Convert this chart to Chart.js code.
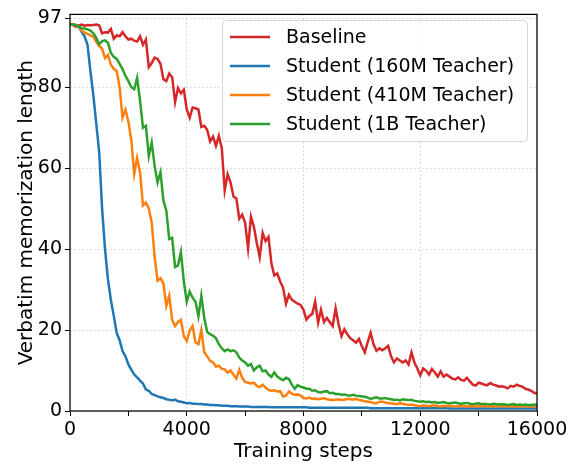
<!DOCTYPE html>
<html>
<head>
<meta charset="utf-8">
<script src="https://cdn.jsdelivr.net/npm/chart.js@4/dist/chart.umd.min.js"></script>
<style>
  html, body { margin: 0; padding: 0; background: #fff; }
  #wrap { width: 575px; height: 466px; }
</style>
</head>
<body>
<div id="wrap"><canvas id="memChart" width="575" height="466"></canvas></div>
<script>
// training steps, one point every 100 steps
const steps = [];
for (let s = 0; s <= 16000; s += 100) steps.push(s);

const seriesNames = ['Baseline', 'Student (160M Teacher)', 'Student (410M Teacher)', 'Student (1B Teacher)'];
const seriesColors = ['#d62728', '#1f77b4', '#ff7f0e', '#2ca02c'];

const yTickValues = [0, 20, 40, 60, 80, 97];

const baseline = [
  95.5, 95.4, 95.0, 95.3, 95.5, 95.2, 95.4, 95.3, 95.4, 95.5,
  95.3, 93.3, 93.6, 93.5, 94.4, 92.0, 92.8, 92.6, 93.6, 92.6,
  91.8, 92.0, 91.5, 91.3, 92.6, 90.5, 91.8, 85.0, 86.0, 87.3,
  87.0, 85.8, 82.0, 81.5, 83.4, 82.5, 76.3, 79.8, 78.5, 79.4,
  74.5, 72.5, 75.0, 74.8, 74.5, 70.2, 70.5, 69.5, 66.6, 67.8,
  65.5, 68.0, 65.0, 54.5, 58.5, 56.5, 53.0, 52.5, 47.5, 48.5,
  46.5, 40.2, 48.0, 45.5, 41.5, 38.0, 44.0, 42.0, 43.0, 36.5,
  33.5, 34.0, 32.0, 30.5, 26.5, 28.7, 27.5, 27.0, 26.5, 26.2,
  25.0, 22.6, 23.5, 24.0, 27.0, 21.8, 25.0, 22.0, 23.0, 22.0,
  21.0, 25.4, 21.5, 18.5, 20.2, 19.0, 18.0, 17.5, 16.9, 17.8,
  16.0, 14.5, 17.0, 19.3, 16.5, 14.9, 15.5, 15.0, 15.5, 16.1,
  13.5, 12.0, 13.0, 12.5, 12.0, 12.5, 11.5, 14.5, 12.0, 10.5,
  8.8, 10.5, 10.0, 9.0, 10.4, 9.5, 8.5, 9.8, 8.5, 9.0,
  8.5, 8.0, 7.8, 8.3, 7.7, 7.5, 8.2, 7.3, 6.5, 6.3,
  7.0, 6.8, 6.5, 6.4, 6.9, 6.5, 6.3, 6.0, 6.1, 5.9,
  5.6, 6.2, 6.0, 6.5, 6.2, 6.0, 5.5, 5.3, 5.0, 4.5,
  4.3
];

const teacher160m = [
  95.5, 95.5, 95.3, 95.0, 93.7, 92.6, 90.5, 84.0, 78.0, 71.0,
  64.0, 50.0, 40.0, 32.5, 27.5, 23.5, 19.3, 17.5, 14.8, 13.5,
  11.5, 10.2, 9.0, 8.3, 7.5, 6.8, 5.3, 5.0, 4.2, 3.9,
  3.6, 3.4, 3.2, 2.9, 2.8, 2.6, 2.8, 2.4, 2.3, 2.1,
  1.9, 2.0, 1.8, 1.8, 1.7, 1.7, 1.6, 1.6, 1.5, 1.5,
  1.4, 1.4, 1.3, 1.3, 1.3, 1.2, 1.2, 1.2, 1.1, 1.1,
  1.1, 1.1, 1.0, 1.0, 1.0, 1.0, 1.0, 1.0, 1.0, 0.9,
  0.9, 0.9, 0.9, 0.9, 0.9, 0.9, 0.9, 0.9, 0.9, 0.9,
  0.9, 0.9, 0.8, 0.8, 0.8, 0.8, 0.8, 0.8, 0.8, 0.8,
  0.8, 0.8, 0.8, 0.8, 0.8, 0.8, 0.8, 0.8, 0.8, 0.8,
  0.8, 0.8, 0.8, 0.7, 0.7, 0.7, 0.7, 0.7, 0.7, 0.7,
  0.7, 0.7, 0.7, 0.7, 0.7, 0.7, 0.7, 0.7, 0.7, 0.7,
  0.7, 0.7, 0.7, 0.7, 0.7, 0.7, 0.7, 0.7, 0.7, 0.7,
  0.6, 0.6, 0.6, 0.6, 0.6, 0.6, 0.6, 0.6, 0.6, 0.6,
  0.6, 0.6, 0.6, 0.6, 0.6, 0.6, 0.6, 0.6, 0.6, 0.6,
  0.6, 0.6, 0.6, 0.6, 0.6, 0.6, 0.6, 0.6, 0.6, 0.6,
  0.6
];

const teacher410m = [
  95.5, 95.5, 95.4, 95.0, 94.0, 93.5, 93.2, 92.8, 92.5, 91.2,
  90.2, 89.5, 87.2, 88.0, 85.6, 84.5, 84.0, 80.0, 72.5, 74.5,
  71.5, 67.0, 58.6, 62.5, 59.0, 50.8, 51.5, 50.0, 46.6, 38.0,
  32.2, 32.8, 31.5, 26.0, 28.5, 22.5, 21.0, 22.0, 22.5, 18.5,
  17.3, 19.8, 21.0, 17.0, 16.5, 20.0, 14.5, 13.5, 12.4, 12.0,
  11.0, 11.2, 10.4, 10.3, 9.5, 10.0, 9.0, 8.0, 10.2, 8.2,
  7.2, 7.0, 6.8, 7.0, 6.2, 5.9, 6.5, 5.8, 5.2, 5.0,
  5.1, 4.8, 4.9, 3.6, 3.8, 4.8, 4.3, 4.0, 4.1, 3.8,
  3.2, 3.1, 3.3, 3.0, 3.1, 2.9, 3.0, 3.2, 2.9, 2.8,
  2.7, 2.8, 2.9, 2.7, 2.8, 3.0, 2.9, 2.8, 3.0, 2.7,
  2.6, 2.4, 2.3, 2.2, 2.0, 1.9, 2.3, 2.3, 2.1, 1.9,
  1.9, 1.8, 1.7, 1.9, 1.8, 1.6, 1.5, 1.6, 1.4, 1.3,
  1.2, 1.4, 1.3, 1.2, 1.3, 1.4, 1.2, 1.1, 1.3, 1.2,
  1.3, 1.2, 1.1, 1.2, 1.3, 1.2, 1.1, 1.2, 1.2, 1.1,
  1.2, 1.3, 1.2, 1.1, 1.2, 1.2, 1.1, 1.2, 1.3, 1.2,
  1.1, 1.2, 1.2, 1.1, 1.2, 1.1, 1.2, 1.2, 1.1, 1.2,
  1.2
];

const teacher1b = [
  95.5, 95.5, 95.4, 95.0, 94.6, 94.5, 94.3, 94.0, 93.3, 92.2,
  90.6, 91.4, 91.6, 91.0, 88.5, 87.5, 87.0, 85.8, 84.5, 82.8,
  81.5, 80.0, 79.5, 82.3, 76.7, 70.0, 70.5, 63.0, 66.3, 60.5,
  56.5, 59.0, 52.0, 49.5, 42.5, 42.8, 35.6, 36.0, 39.3, 32.0,
  27.0, 29.5, 28.0, 27.0, 23.4, 28.5, 23.0, 19.5, 19.0, 18.6,
  18.0, 16.5, 15.5, 14.8, 15.2, 14.8, 15.0, 14.5, 13.2, 12.5,
  12.0, 11.2, 11.6, 10.0, 10.8, 11.2, 9.8, 10.0, 9.0, 8.4,
  9.5, 8.5, 8.0, 7.6, 8.2, 7.9, 6.5, 5.5, 6.4, 6.0,
  5.8, 5.5, 5.5, 5.0, 5.1, 4.7, 4.6, 4.8, 4.9, 4.4,
  4.5, 4.2, 4.2, 4.0, 4.1, 3.9, 3.8, 4.0, 3.8, 3.7,
  3.6, 3.5, 3.3, 3.0, 3.2, 3.4, 3.1, 3.1, 3.2, 3.0,
  2.9, 2.7, 2.8, 2.6, 2.9, 2.8, 2.7, 2.8, 2.5, 2.4,
  2.3, 2.4, 2.2, 2.3, 2.1, 2.2, 2.0, 2.1, 2.2, 2.0,
  1.9, 2.0, 2.1, 1.9, 1.8, 1.9, 2.0, 1.8, 1.7, 1.8,
  1.9, 1.7, 1.8, 1.7, 1.6, 1.8, 1.7, 1.6, 1.7, 1.6,
  1.5, 1.6, 1.7, 1.5, 1.6, 1.5, 1.6, 1.5, 1.5, 1.6,
  1.5
];

const seriesValues = [baseline, teacher160m, teacher410m, teacher1b];
const FONT = "'DejaVu Sans', sans-serif";

// matplotlib-like frame around the plot area
const framePlugin = {
  id: 'frame',
  afterDraw(chart) {
    const { ctx, chartArea: a } = chart;
    ctx.save();
    ctx.strokeStyle = '#000';
    ctx.lineWidth = 1.25;
    ctx.strokeRect(a.left, a.top, a.right - a.left, a.bottom - a.top);
    ctx.restore();
  }
};

// boxed legend in the upper right corner
const boxLegendPlugin = {
  id: 'boxLegend',
  afterDraw(chart) {
    const { ctx } = chart;
    const x = 222.5, y = 20.5, w = 305, h = 121, r = 4;
    ctx.save();
    ctx.beginPath();
    ctx.moveTo(x + r, y);
    ctx.arcTo(x + w, y, x + w, y + h, r);
    ctx.arcTo(x + w, y + h, x, y + h, r);
    ctx.arcTo(x, y + h, x, y, r);
    ctx.arcTo(x, y, x + w, y, r);
    ctx.closePath();
    ctx.fillStyle = 'rgba(255,255,255,0.8)';
    ctx.fill();
    ctx.strokeStyle = '#d6d6d6';
    ctx.lineWidth = 1;
    ctx.stroke();

    ctx.font = '19px ' + FONT;
    ctx.textBaseline = 'middle';
    ctx.fillStyle = '#000';
    chart.data.datasets.forEach((ds, i) => {
      const cy = 37 + i * 29;
      ctx.beginPath();
      ctx.moveTo(230, cy);
      ctx.lineTo(270, cy);
      ctx.strokeStyle = ds.borderColor;
      ctx.lineWidth = 2.5;
      ctx.stroke();
      ctx.fillText(ds.label, 286, cy + 1);
    });
    ctx.restore();
  }
};

const datasets = seriesNames.map((name, i) => ({
  label: name,
  data: steps.map((s, k) => ({ x: s, y: seriesValues[i][k] })),
  borderColor: seriesColors[i],
  backgroundColor: seriesColors[i],
  borderWidth: 2.5,
  pointRadius: 0,
  tension: 0,
  order: 4 - i
}));

const ctx = document.getElementById('memChart').getContext('2d');
new Chart(ctx, {
  type: 'line',
  data: { datasets },
  plugins: [framePlugin, boxLegendPlugin],
  options: {
    responsive: false,
    animation: false,
    layout: { padding: { top: 9, right: 38, left: 0, bottom: 0 } },
    plugins: {
      legend: { display: false },
      tooltip: { enabled: false }
    },
    scales: {
      x: {
        type: 'linear',
        min: 0,
        max: 16000,
        afterFit(scale) { scale.height = 55; },
        afterBuildTicks(scale) {
          const t = [];
          for (let v = 0; v <= 16000; v += 2000) t.push({ value: v });
          scale.ticks = t;
        },
        ticks: {
          autoSkip: false,
          maxRotation: 0,
          padding: 3,
          color: '#000',
          font: { family: FONT, size: 19 },
          callback: v => (v % 4000 === 0 ? String(v) : '')
        },
        grid: {
          color: c => (c.tick && c.tick.value % 4000 === 0 ? '#cfcfcf' : 'rgba(0,0,0,0)'),
          lineWidth: 1,
          drawTicks: true,
          tickLength: 5,
          tickColor: '#000',
          tickWidth: 1,
          tickBorderDash: []
        },
        border: { display: false, dash: [1.5, 2.5] },
        title: {
          display: true,
          text: 'Training steps',
          color: '#000',
          font: { family: FONT, size: 20 },
          padding: { top: 0, bottom: 2 }
        }
      },
      y: {
        min: 0,
        max: 98,
        afterFit(scale) { scale.width = 70; },
        afterBuildTicks(scale) {
          scale.ticks = yTickValues.map(v => ({ value: v }));
        },
        ticks: {
          autoSkip: false,
          padding: 3,
          color: '#000',
          font: { family: FONT, size: 19 }
        },
        grid: {
          color: '#cfcfcf',
          lineWidth: 1,
          drawTicks: true,
          tickLength: 5,
          tickColor: '#000',
          tickWidth: 1,
          tickBorderDash: []
        },
        border: { display: false, dash: [1.5, 2.5] },
        title: {
          display: true,
          text: 'Verbatim memorization length',
          color: '#000',
          font: { family: FONT, size: 20 },
          padding: { top: 15, bottom: 0 }
        }
      }
    }
  }
});
</script>
</body>
</html>
